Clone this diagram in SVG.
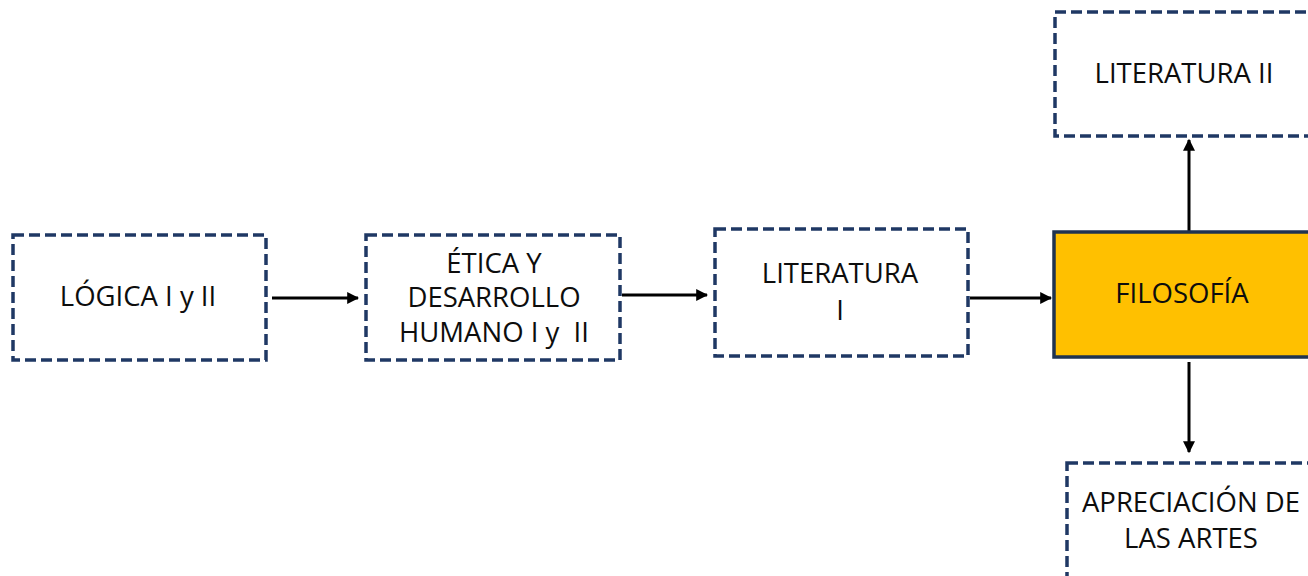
<svg xmlns="http://www.w3.org/2000/svg" width="1308" height="576" viewBox="0 0 1308 576">
<style>
.box{fill:#fff;stroke:#1f3864;stroke-width:3.5;stroke-dasharray:11 5}
.main{fill:#ffc000;stroke:#1f3350;stroke-width:3.5}
text{font-family:"Open Sans","Liberation Sans",sans-serif;font-size:27.5px;fill:#0d0d0d;text-anchor:middle}
.c{stroke:#000;stroke-width:3;fill:none;marker-end:url(#ah)}
</style>
<defs>
<marker id="ah" viewBox="0 0 10 10" refX="9" refY="5" markerWidth="4" markerHeight="4" orient="auto" markerUnits="strokeWidth">
<path d="M0,0 L10,5 L0,10 z" fill="#000"/>
</marker>
</defs>
<rect width="1308" height="576" fill="#fff"/>
<g id="connectors">
<line class="c" x1="272" y1="298" x2="358" y2="298"/>
<line class="c" x1="622" y1="295" x2="707" y2="295"/>
<line class="c" x1="970" y1="298" x2="1051" y2="298"/>
<line class="c" x1="1189" y1="232" x2="1189" y2="140"/>
<line class="c" x1="1189" y1="362" x2="1189" y2="452"/>
</g>
<g id="logica">
<rect class="box" x="13" y="235" width="253" height="125"/>
<text x="138" y="306">LÓGICA I y II</text>
</g>
<g id="etica">
<rect class="box" x="366" y="235" width="254" height="125"/>
<text x="494" y="273">ÉTICA Y</text>
<text x="494" y="307">DESARROLLO</text>
<text x="494" y="342" xml:space="preserve">HUMANO I y  II</text>
</g>
<g id="literatura1">
<rect class="box" x="715" y="229" width="253" height="127"/>
<text x="840" y="283">LITERATURA</text>
<text x="840" y="320">I</text>
</g>
<g id="filosofia">
<rect class="main" x="1054" y="232" width="260" height="125"/>
<text x="1182" y="303">FILOSOFÍA</text>
</g>
<g id="literatura2">
<rect class="box" x="1055" y="12" width="260" height="124"/>
<text x="1184" y="83">LITERATURA II</text>
</g>
<g id="apreciacion">
<rect class="box" x="1067" y="463" width="250" height="130"/>
<text x="1191" y="512">APRECIACIÓN DE</text>
<text x="1191" y="548">LAS ARTES</text>
</g>
</svg>
